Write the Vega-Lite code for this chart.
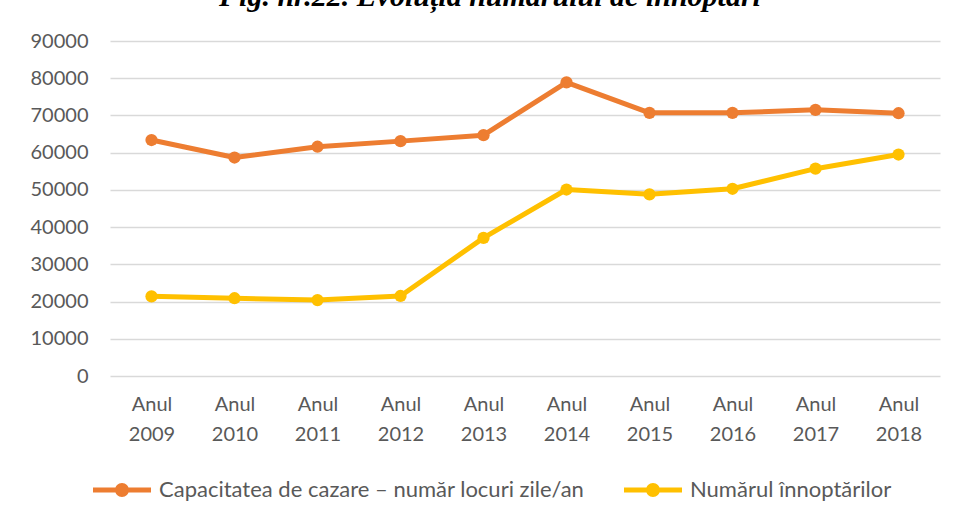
{
  "$schema": "https://vega.github.io/schema/vega-lite/v6.json",
  "width": 830,
  "height": 335,
  "autosize": {"type": "none"},
  "padding": {"left": 110, "top": 41, "right": 15, "bottom": 143},
  "background": "white",
  "title": {
    "text": "Fig. nr.22. Evoluția numărului de înnoptări",
    "font": "Liberation Serif",
    "fontSize": 30,
    "fontWeight": "bold",
    "fontStyle": "italic",
    "color": "#000000",
    "anchor": "middle",
    "baseline": "alphabetic",
    "offset": 26,
    "dx": -35,
    "dy": 31
  },
  "data": {
    "values": [
      {"an": "Anul 2009", "serie": "Capacitatea de cazare – număr locuri zile/an", "valoare": 63400},
      {"an": "Anul 2010", "serie": "Capacitatea de cazare – număr locuri zile/an", "valoare": 58700},
      {"an": "Anul 2011", "serie": "Capacitatea de cazare – număr locuri zile/an", "valoare": 61600},
      {"an": "Anul 2012", "serie": "Capacitatea de cazare – număr locuri zile/an", "valoare": 63100},
      {"an": "Anul 2013", "serie": "Capacitatea de cazare – număr locuri zile/an", "valoare": 64700},
      {"an": "Anul 2014", "serie": "Capacitatea de cazare – număr locuri zile/an", "valoare": 78900},
      {"an": "Anul 2015", "serie": "Capacitatea de cazare – număr locuri zile/an", "valoare": 70700},
      {"an": "Anul 2016", "serie": "Capacitatea de cazare – număr locuri zile/an", "valoare": 70700},
      {"an": "Anul 2017", "serie": "Capacitatea de cazare – număr locuri zile/an", "valoare": 71500},
      {"an": "Anul 2018", "serie": "Capacitatea de cazare – număr locuri zile/an", "valoare": 70600},
      {"an": "Anul 2009", "serie": "Numărul înnoptărilor", "valoare": 21400},
      {"an": "Anul 2010", "serie": "Numărul înnoptărilor", "valoare": 20900},
      {"an": "Anul 2011", "serie": "Numărul înnoptărilor", "valoare": 20400},
      {"an": "Anul 2012", "serie": "Numărul înnoptărilor", "valoare": 21500},
      {"an": "Anul 2013", "serie": "Numărul înnoptărilor", "valoare": 37100},
      {"an": "Anul 2014", "serie": "Numărul înnoptărilor", "valoare": 50100},
      {"an": "Anul 2015", "serie": "Numărul înnoptărilor", "valoare": 48800},
      {"an": "Anul 2016", "serie": "Numărul înnoptărilor", "valoare": 50300},
      {"an": "Anul 2017", "serie": "Numărul înnoptărilor", "valoare": 55700},
      {"an": "Anul 2018", "serie": "Numărul înnoptărilor", "valoare": 59500}
    ]
  },
  "encoding": {
    "x": {
      "field": "an",
      "type": "ordinal",
      "sort": null,
      "scale": {"paddingInner": 0, "paddingOuter": 0},
      "axis": {
        "title": null,
        "labelAngle": 0,
        "domain": false,
        "ticks": false,
        "labelExpr": "split(datum.label, ' ')",
        "labelFont": "Lato",
        "labelFontSize": 20,
        "labelColor": "#595959",
        "labelLineHeight": 30,
        "labelPadding": 18,
        "labelBaseline": "top"
      }
    },
    "y": {
      "field": "valoare",
      "type": "quantitative",
      "scale": {"domain": [0, 90000], "nice": false},
      "axis": {
        "title": null,
        "values": [0, 10000, 20000, 30000, 40000, 50000, 60000, 70000, 80000, 90000],
        "format": "d",
        "domain": false,
        "ticks": false,
        "grid": true,
        "gridColor": "#d9d9d9",
        "gridWidth": 1.3,
        "labelFont": "Lato",
        "labelFontSize": 20,
        "labelColor": "#595959",
        "labelPadding": 22
      }
    },
    "color": {
      "field": "serie",
      "type": "nominal",
      "sort": null,
      "scale": {"range": ["#ED7D31", "#FFC000"]},
      "legend": {
        "title": null,
        "orient": "none",
        "direction": "horizontal",
        "legendX": -17,
        "legendY": 420,
        "symbolType": "M-1,-0.09H1V0.09H-1Z M0.24,0A0.24,0.24 0 1,1 -0.24,0A0.24,0.24 0 1,1 0.24,0Z",
        "symbolSize": 3364,
        "symbolStrokeWidth": 0,
        "labelFont": "Lato",
        "labelFontSize": 22,
        "labelColor": "#595959",
        "labelLimit": 0,
        "labelOffset": 8,
        "columnPadding": 39,
        "encode": {
          "symbols": {
            "update": {
              "fill": {"scale": "color", "field": "value"},
              "strokeWidth": {"value": 0}
            }
          }
        }
      }
    }
  },
  "layer": [
    {"mark": {"type": "line", "strokeWidth": 5, "strokeJoin": "round"}},
    {"mark": {"type": "point", "filled": true, "size": 150, "opacity": 1}}
  ],
  "config": {"view": {"stroke": null}}
}
